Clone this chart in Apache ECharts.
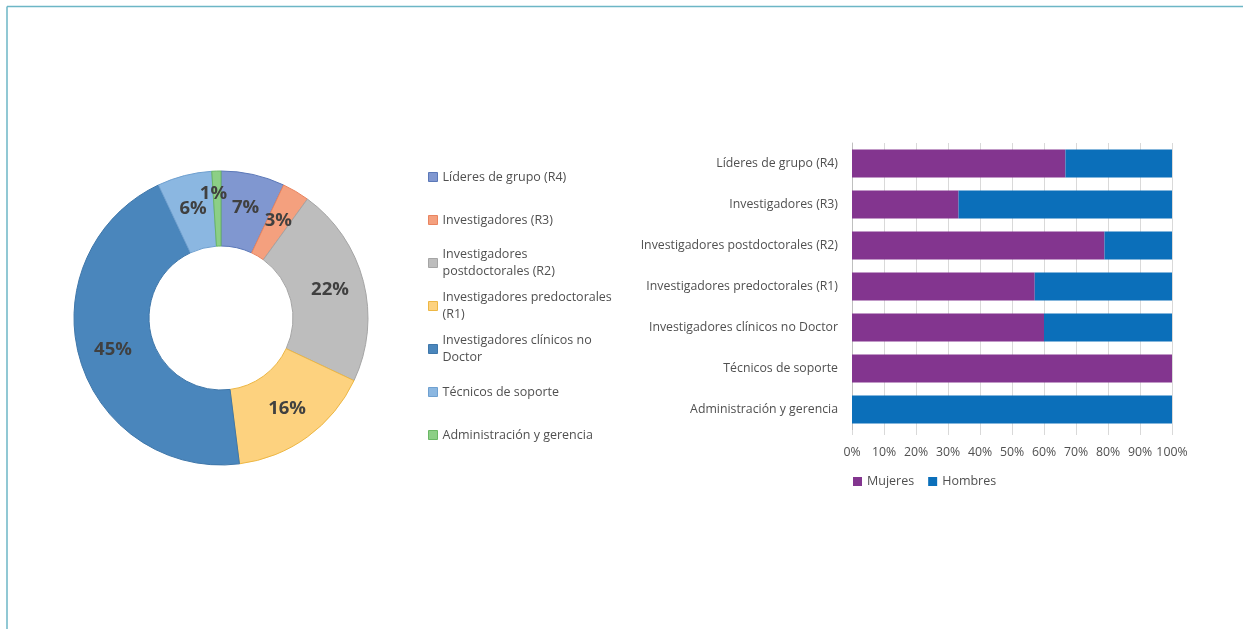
<!DOCTYPE html>
<html><head><meta charset="utf-8">
<script src="https://cdn.jsdelivr.net/npm/echarts@6/dist/echarts.min.js"></script>
<style>html,body{margin:0;padding:0;background:#fff}#c{width:1243px;height:629px}</style>
</head><body><div id="c"></div>
<script>
// ---- data ----
const pieCategories = ['Líderes de grupo (R4)','Investigadores (R3)','Investigadores postdoctorales (R2)','Investigadores predoctorales (R1)','Investigadores clínicos no Doctor','Técnicos de soporte','Administración y gerencia'];
const pieLegendLabels = ['Líderes de grupo (R4)','Investigadores (R3)','Investigadores\npostdoctorales (R2)','Investigadores predoctorales\n(R1)','Investigadores clínicos no\nDoctor','Técnicos de soporte','Administración y gerencia'];
const pieValues = [7, 3, 22, 16, 45, 6, 1];
const pieColors = ['#8097D0','#F4A07E','#BDBDBD','#FDD27F','#4A86BC','#8BB7E1','#8CCF86'];
const pieBorders = ['#5B78B8','#E98460','#A5A5A5','#EDB744','#3F77AA','#6FA0D0','#6AB765'];

const barCategories = ['Líderes de grupo (R4)','Investigadores (R3)','Investigadores postdoctorales (R2)','Investigadores predoctorales (R1)','Investigadores clínicos no Doctor','Técnicos de soporte','Administración y gerencia'];
const mujeres = [66.7, 33.3, 78.9, 57.1, 60, 100, 0];
const hombres = [33.3, 66.7, 21.1, 42.9, 40, 0, 100];
const seriesNames = ['Mujeres','Hombres'];
const xTicks = [0,10,20,30,40,50,60,70,80,90,100];

const FONT = 'Open Sans';
const FS_AX = 12.3, FS_LEG = 12.5;
const TXT = '#505050';

const chart = echarts.init(document.getElementById('c'));

// per-item legends (left of pie)
const legendSlotTop = 177, legendSlotGap = 43;
const pieLegends = pieCategories.map((c,i)=>{
  const center = legendSlotTop + legendSlotGap*i;
  const two = pieLegendLabels[i].indexOf('\n') >= 0;
  return {
    data:[c], orient:'vertical', left:428, top: two ? center-25.5 : center-8.5,
    padding:0, itemWidth:9, itemHeight:9, icon:'rect',
    itemStyle:{borderColor:pieBorders[i], borderWidth:1},
    formatter: () => pieLegendLabels[i],
    textStyle:{fontFamily:FONT, fontSize:FS_LEG, color:TXT, lineHeight:17,
      padding: two ? [17,0,0,0] : 0}
  };
});

const option = {
  backgroundColor:'#fff',
  animation:false,
  textStyle:{fontFamily:FONT},
  graphic:[
    {type:'line', shape:{x1:7, y1:6.5, x2:1243, y2:6.5}, style:{stroke:'#6DB6C6', lineWidth:1.5}},
    {type:'line', shape:{x1:7, y1:6.5, x2:7, y2:629}, style:{stroke:'#6DB6C6', lineWidth:1.5}}
  ],
  legend: pieLegends.concat([{
    data: seriesNames, left:853, top:475, padding:0, itemWidth:9, itemHeight:9, icon:'rect', itemGap:14,
    textStyle:{fontFamily:FONT, fontSize:FS_LEG, color:TXT}
  }]),
  grid:{left:852, right:71, top:143, height:287, containLabel:false},
  xAxis:{type:'value', min:0, max:100, interval:10,
    axisLine:{show:false},
    axisTick:{show:true, length:5, lineStyle:{color:'#D9D9D9'}},
    splitLine:{show:true, lineStyle:{color:'#D9D9D9'}},
    axisLabel:{formatter:v=>v+'%', color:TXT, fontSize:FS_AX, fontFamily:FONT, margin:16,
      customValues: xTicks}
  },
  yAxis:{type:'category', data:barCategories, inverse:true,
    axisLine:{show:true, lineStyle:{color:'#BFBFBF'}},
    axisTick:{show:false},
    axisLabel:{color:TXT, fontSize:FS_AX, fontFamily:FONT, margin:14}
  },
  series:[
    {type:'pie', name:'pie', center:[221,318], radius:[72,147], startAngle:90,
      legendHoverLink:false, avoidLabelOverlap:false,
      labelLayout:{hideOverlap:false},
      label:{show:true, position:'inside', formatter:'{d}%', color:'#404040', fontSize:18.5, fontWeight:'bold', fontFamily:FONT},
      labelLine:{show:false},
      data: pieCategories.map((c,i)=>{
        const d = {name:c, value:pieValues[i], itemStyle:{color:pieColors[i], borderColor:pieBorders[i], borderWidth:1}};
        if(i===6) d.label = {offset:[-4,-12]};
        return d;
      })
    },
    {type:'bar', name:seriesNames[0], stack:'s', data:mujeres, barCategoryGap:'32%', itemStyle:{color:'#83358F'}},
    {type:'bar', name:seriesNames[1], stack:'s', data:hombres, barCategoryGap:'32%', itemStyle:{color:'#0B6FBA'}}
  ]
};
chart.setOption(option);
</script></body></html>
